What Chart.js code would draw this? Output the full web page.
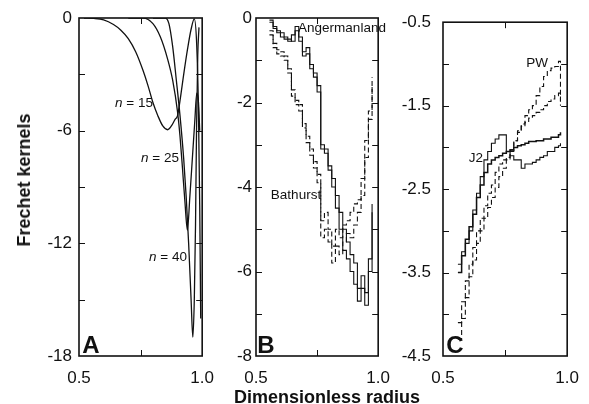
<!DOCTYPE html>
<html>
<head>
<meta charset="utf-8">
<script src="https://cdn.jsdelivr.net/npm/chart.js@4/dist/chart.umd.min.js"></script>
<style>
  html, body { margin: 0; padding: 0; background: #fff; overflow: hidden; }
  body { width: 589px; height: 404px; position: relative; font-family: "Liberation Sans", Arial, sans-serif; color: #111; }
  canvas { position: absolute; top: 0; }
  .t { position: absolute; transform: translate(-50%, -50%); white-space: nowrap; line-height: 1; font-size: 13.5px; }
  .b { font-weight: bold; }
  .pl { font-weight: bold; font-size: 24px; }
</style>
</head>
<body>
<canvas id="cA" width="206" height="404" style="left:20px"></canvas>
<canvas id="cB" width="206" height="404" style="left:196px"></canvas>
<canvas id="cC" width="208" height="404" style="left:383px"></canvas>

<div class="t b" style="left:24px;top:180px;font-size:18px;transform:translate(-50%,-50%) rotate(-90deg)">Frechet kernels</div>
<div class="t b" style="left:327px;top:397px;font-size:18px">Dimensionless radius</div>

<div class="t" style="left:134px;top:103px"><i>n</i> = 15</div>
<div class="t" style="left:160px;top:158px"><i>n</i> = 25</div>
<div class="t" style="left:168px;top:257px"><i>n</i> = 40</div>
<div class="t" style="left:342px;top:28px">Angermanland</div>
<div class="t" style="left:296px;top:195px">Bathurst</div>
<div class="t" style="left:537px;top:63px">PW</div>
<div class="t" style="left:476px;top:158px">J2</div>

<div class="t pl" style="left:91px;top:345px">A</div>
<div class="t pl" style="left:266px;top:345px">B</div>
<div class="t pl" style="left:455px;top:345px">C</div>

<script>
// panel A: kernels for three overtones
const xN15 = [0.52, 0.56, 0.6, 0.64, 0.67, 0.7, 0.73, 0.76, 0.78, 0.8, 0.82, 0.84, 0.86, 0.875, 0.89, 0.9, 0.91, 0.925, 0.94, 0.955, 0.968, 0.978, 0.985, 0.99, 0.994];
const yN15 = [0, -0.02, -0.1, -0.35, -0.65, -1.1, -1.8, -2.8, -3.6, -4.5, -5.2, -5.75, -5.95, -5.75, -5.4, -5.2, -4.4, -3.0, -1.7, -0.6, -0.05, -1.5, -5, -10, -16];
const xN25 = [0.7, 0.76, 0.8, 0.83, 0.86, 0.88, 0.9, 0.91, 0.92, 0.93, 0.94, 0.95, 0.96, 0.97, 0.978, 0.985, 0.99];
const yN25 = [0, 0, -0.3, -1.0, -2.2, -3.3, -5.0, -6.3, -8.0, -9.8, -11.3, -9.5, -7.5, -5.5, -4.0, -4.5, -6.0];
const xN40 = [0.8, 0.85, 0.865, 0.88, 0.895, 0.91, 0.925, 0.935, 0.945, 0.955, 0.962, 0.968, 0.973, 0.977, 0.982, 0.987];
const yN40 = [0, 0, -0.3, -1.5, -3.3, -5.2, -7.5, -9.5, -12, -15, -17, -15, -11, -6, -2, -0.5];

// panel B: Angermanland (solid pair) and Bathurst (dashed pair)
const xB = [0.555, 0.57, 0.585, 0.60, 0.615, 0.63, 0.645, 0.66, 0.675, 0.69, 0.705, 0.72, 0.735, 0.75, 0.765, 0.78, 0.795, 0.81, 0.825, 0.84, 0.855, 0.87, 0.885, 0.90, 0.915, 0.93, 0.945, 0.96, 0.975];
const angHi = [-0.1, -0.2, -0.3, -0.35, -0.45, -0.55, -0.4, -0.2, -0.45, -0.8, -0.7, -1.1, -1.3, -1.6, -3.0, -3.1, -3.5, -3.8, -4.2, -4.6, -5.0, -5.3, -5.6, -5.8, -6.4, -6.1, -6.5, -5.7, -4.4];
const angLo = [-0.05, -0.25, -0.35, -0.45, -0.5, -0.5, -0.55, -0.3, -0.55, -0.9, -0.85, -1.2, -1.4, -1.75, -3.1, -3.2, -3.6, -4.0, -4.5, -5.0, -5.5, -5.7, -6.0, -6.3, -6.7, -6.4, -6.8, -6.0, -4.6];
const batHi = [-0.3, -0.6, -0.75, -0.8, -0.9, -1.2, -1.7, -1.95, -2.05, -2.5, -2.8, -3.1, -3.4, -3.7, -4.8, -4.6, -5.0, -5.4, -5.0, -5.2, -4.9, -4.8, -4.6, -4.4, -4.3, -3.8, -2.9, -2.2, -1.4];
const batLo = [-0.4, -0.7, -0.85, -0.9, -1.0, -1.3, -1.85, -2.05, -2.2, -2.6, -2.95, -3.25, -3.55, -3.9, -5.2, -5.0, -5.3, -5.8, -5.4, -5.6, -5.3, -5.1, -5.2, -4.9, -4.6, -4.2, -3.3, -2.4, -1.6];

// panel C: J2 (solid pair) and PW (dashed pair)
const xC = [0.56, 0.575, 0.59, 0.605, 0.62, 0.635, 0.65, 0.665, 0.68, 0.695, 0.71, 0.725, 0.74, 0.755, 0.77, 0.785, 0.80, 0.815, 0.83, 0.845, 0.86, 0.875, 0.89, 0.905, 0.92, 0.935, 0.95, 0.965, 0.973];
const j2a = [-3.5, -3.3, -3.1, -2.95, -2.8, -2.6, -2.45, -2.3, -2.2, -2.15, -2.12, -2.1, -2.07, -2.05, -2.03, -2.0, -1.98, -1.97, -1.95, -1.93, -1.93, -1.92, -1.92, -1.9, -1.9, -1.88, -1.88, -1.85, -1.82];
const j2b = [-3.4, -3.25, -3.15, -3.0, -2.75, -2.55, -2.35, -2.15, -2.05, -1.95, -1.9, -1.85, -1.85, -2.05, -2.1, -2.15, -2.15, -2.25, -2.2, -2.2, -2.18, -2.15, -2.12, -2.1, -2.05, -2.05, -2.0, -1.98, -1.95];
const pwA = [-4.1, -3.85, -3.6, -3.4, -3.2, -3.0, -2.85, -2.7, -2.55, -2.45, -2.3, -2.2, -2.15, -2.12, -2.03, -1.92, -1.8, -1.72, -1.62, -1.55, -1.5, -1.38, -1.27, -1.15, -1.08, -1.05, -1.03, -0.97, -1.45];
const pwB = [-4.3, -4.05, -3.8, -3.55, -3.35, -3.15, -3.0, -2.85, -2.72, -2.6, -2.48, -2.35, -2.25, -2.15, -2.05, -1.92, -1.82, -1.75, -1.7, -1.65, -1.62, -1.58, -1.55, -1.5, -1.45, -1.42, -1.38, -1.35, -1.5];

const INK = "#111";
const FONT = { family: "'Liberation Sans', Arial, sans-serif", size: 17 };

const pts = (xs, ys) => xs.map((x, i) => ({ x, y: ys[i] }));

// frame + inward ticks on all four sides
const frameTicks = {
  id: "frameTicks",
  afterDraw(chart) {
    const { ctx, chartArea: a, scales } = chart;
    const len = 6;
    ctx.save();
    ctx.strokeStyle = INK;
    ctx.lineWidth = 1;
    ctx.beginPath();
    scales.y.ticks.forEach((t) => {
      const y = Math.round(scales.y.getPixelForValue(t.value)) + 0.5;
      if (y <= a.top + 2 || y >= a.bottom - 2) return;
      ctx.moveTo(a.left, y); ctx.lineTo(a.left + len, y);
      ctx.moveTo(a.right, y); ctx.lineTo(a.right - len, y);
    });
    scales.x.ticks.forEach((t) => {
      const x = Math.round(scales.x.getPixelForValue(t.value)) + 0.5;
      if (x <= a.left + 2 || x >= a.right - 2) return;
      ctx.moveTo(x, a.bottom); ctx.lineTo(x, a.bottom - len);
      ctx.moveTo(x, a.top); ctx.lineTo(x, a.top + len);
    });
    ctx.stroke();
    ctx.lineWidth = 1.6;
    ctx.strokeRect(a.left, a.top, a.right - a.left, a.bottom - a.top);
    ctx.restore();
  },
};

function makePanel(id, datasets, y, yWidth, yPad, rightPad) {
  return new Chart(document.getElementById(id), {
    type: "line",
    data: { datasets },
    options: {
      responsive: false, animation: false, devicePixelRatio: 1,
      layout: { padding: { top: 18, right: rightPad, left: 0, bottom: 0 } },
      plugins: { legend: { display: false }, tooltip: { enabled: false } },
      elements: { point: { radius: 0 }, line: { borderColor: INK, borderWidth: 1.1 } },
      scales: {
        x: {
          type: "linear", min: 0.5, max: 1.0,
          grid: { display: false, drawTicks: false }, border: { display: false },
          ticks: { stepSize: 0.25, autoSkip: false, maxRotation: 0, padding: 12, color: INK, font: FONT,
                   callback: (v) => (v === 0.75 ? "" : v.toFixed(1)) },
          afterFit: (s) => { s.height = 48; },
        },
        y: {
          type: "linear", min: y.min, max: y.max,
          grid: { display: false, drawTicks: false }, border: { display: false },
          ticks: { stepSize: y.step, autoSkip: false, padding: yPad, color: INK, font: FONT, callback: y.label },
          afterFit: (s) => { s.width = yWidth; },
        },
      },
    },
    plugins: [frameTicks],
  });
}

const smooth = (xs, ys) => ({ data: pts(xs, ys), cubicInterpolationMode: "monotone", borderWidth: 1.3 });
const step = (xs, ys, dashed, w) => ({ data: pts(xs, ys), stepped: true, borderWidth: w || 1.1, borderDash: dashed ? [5, 3] : [] });

makePanel("cA", [smooth(xN15, yN15), smooth(xN25, yN25), smooth(xN40, yN40)],
  { min: -18, max: 0, step: 3, label: (v) => (v % 6 === 0 ? String(v) : "") }, 59, 7, 16);

makePanel("cB", [step(xB, angHi, false), step(xB, angLo, false), step(xB, batHi, true), step(xB, batLo, true)],
  { min: -8, max: 0, step: 1, label: (v) => (v % 2 === 0 ? String(v) : "") }, 60, 4, 16);

makePanel("cC", [step(xC, j2a, false, 1.5), step(xC, j2b, false), step(xC, pwA, true), step(xC, pwB, true)],
  { min: -4.5, max: -0.5, step: 0.5, label: (v) => (Math.abs((v * 2) % 2) === 1 ? v.toFixed(1) : "") }, 60, 12, 16);
</script>
</body>
</html>
